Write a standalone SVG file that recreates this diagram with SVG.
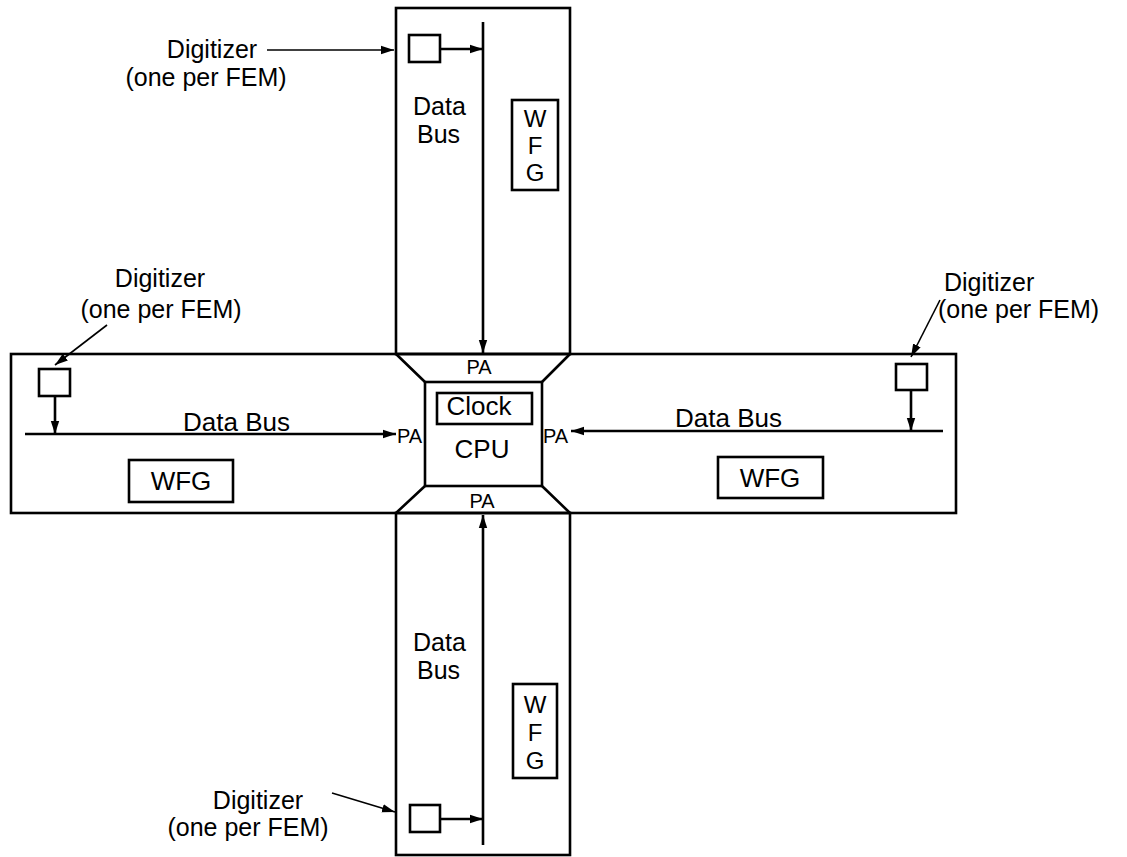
<svg xmlns="http://www.w3.org/2000/svg" width="1127" height="857" viewBox="0 0 1127 857">
<style>
.frame{fill:none;stroke:#000;stroke-width:2.6}
.box{fill:#fff;stroke:#000;stroke-width:2.6}
.bus{fill:none;stroke:#000;stroke-width:2.6}
.lead{fill:none;stroke:#000;stroke-width:1.6}
.t{font-family:"Liberation Sans",Arial,sans-serif;font-size:26px;fill:#000}
.lb{font-family:"Liberation Sans",Arial,sans-serif;font-size:25px;fill:#000}
.v{font-family:"Liberation Sans",Arial,sans-serif;font-size:24px;fill:#000;text-anchor:middle}
.pa{font-family:"Liberation Sans",Arial,sans-serif;font-size:20px;fill:#000}
.c{text-anchor:middle}
</style>
<defs>
<marker id="ah" markerUnits="userSpaceOnUse" markerWidth="14" markerHeight="10" refX="13" refY="5" orient="auto">
<path d="M0,0.8 L13,5 L0,9.2 Z" fill="#000"/>
</marker>
</defs>
<rect width="1127" height="857" fill="#fff"/>
<g id="frames">
<rect class="frame" x="396" y="8" width="174" height="346"/>
<rect class="frame" x="11" y="354" width="945" height="159"/>
<rect class="frame" x="396" y="513" width="174" height="342"/>
</g>
<g id="center">
<rect class="frame" x="425" y="382" width="117" height="104"/>
<path class="frame" d="M396,354 L425,382 M570,354 L542,382 M570,513 L542,486 M396,513 L425,486"/>
<rect class="frame" x="437" y="393" width="95" height="31"/>
<text class="t c" x="479" y="415">Clock</text>
<text class="t c" x="482" y="458">CPU</text>
<text class="pa c" x="479" y="374">PA</text>
<text class="pa c" x="482" y="508">PA</text>
<text class="pa" x="397" y="443">PA</text>
<text class="pa" x="543" y="443">PA</text>
</g>
<g id="top-fem">
<rect class="box" x="409" y="35" width="31" height="27"/>
<text class="lb" x="413" y="115">Data<tspan x="417" dy="28">Bus</tspan></text>
<rect class="box" x="512" y="100" width="46" height="90"/>
<text class="v" x="535" y="127">W<tspan x="535" dy="27">F</tspan><tspan x="535" dy="27">G</tspan></text>
<text class="lb c" x="212" y="58">Digitizer<tspan x="206" dy="28">(one per FEM)</tspan></text>
</g>
<g id="left-fem">
<rect class="box" x="39" y="369" width="31" height="27"/>
<text class="t" x="183" y="431">Data Bus</text>
<rect class="box" x="129" y="460" width="104" height="42"/>
<text class="t c" x="181" y="490">WFG</text>
<text class="lb c" x="160" y="287">Digitizer<tspan x="161" dy="31">(one per FEM)</tspan></text>
</g>
<g id="right-fem">
<rect class="box" x="896" y="364" width="31" height="26"/>
<text class="t" x="675" y="427">Data Bus</text>
<rect class="box" x="718" y="457" width="105" height="41"/>
<text class="t c" x="770" y="487">WFG</text>
<text class="lb" x="944" y="291">Digitizer<tspan x="938" dy="27">(one per FEM)</tspan></text>
</g>
<g id="bottom-fem">
<rect class="box" x="410" y="805" width="30" height="27"/>
<text class="lb" x="413" y="651">Data<tspan x="417" dy="28">Bus</tspan></text>
<rect class="box" x="513" y="684" width="44" height="94"/>
<text class="v" x="535" y="713">W<tspan x="535" dy="28">F</tspan><tspan x="535" dy="28">G</tspan></text>
<text class="lb c" x="258" y="809">Digitizer<tspan x="248" dy="27">(one per FEM)</tspan></text>
</g>
<g id="connectors">
<line class="bus" x1="483" y1="22" x2="483" y2="353" marker-end="url(#ah)"/>
<line class="bus" x1="440" y1="49" x2="483" y2="49" marker-end="url(#ah)"/>
<line class="bus" x1="483" y1="845" x2="483" y2="515" marker-end="url(#ah)"/>
<line class="bus" x1="440" y1="819" x2="483" y2="819" marker-end="url(#ah)"/>
<line class="bus" x1="25" y1="434" x2="396" y2="434" marker-end="url(#ah)"/>
<line class="bus" x1="55" y1="396" x2="55" y2="434" marker-end="url(#ah)"/>
<line class="bus" x1="943" y1="431" x2="571" y2="431" marker-end="url(#ah)"/>
<line class="bus" x1="911" y1="390" x2="911" y2="431" marker-end="url(#ah)"/>
<line class="lead" x1="267" y1="50" x2="394" y2="50" marker-end="url(#ah)"/>
<line class="lead" x1="107" y1="325" x2="55" y2="365" marker-end="url(#ah)"/>
<line class="lead" x1="940" y1="300" x2="911" y2="357" marker-end="url(#ah)"/>
<line class="lead" x1="332" y1="793" x2="395" y2="812" marker-end="url(#ah)"/>
</g>
</svg>
